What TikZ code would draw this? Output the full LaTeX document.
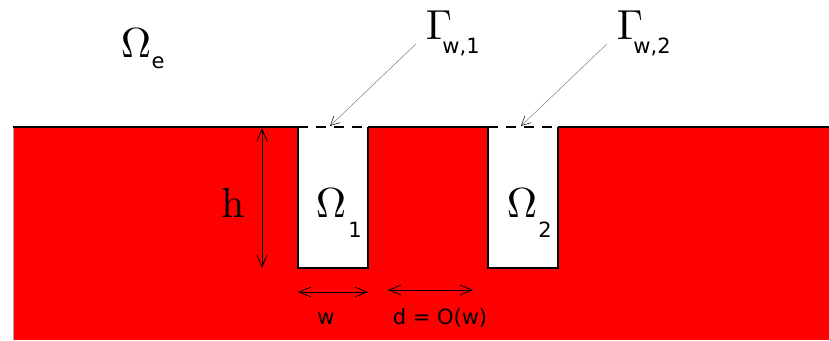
\documentclass[tikz,border=0pt]{standalone}
\usepackage[no-math]{fontspec}
\newfontfamily\labelfont{DejaVu Sans}
\usetikzlibrary{arrows.meta}
\tikzset{
  bigsym/.style={inner sep=0pt, anchor=base, scale=4.2},
  subsym/.style={inner sep=0pt, anchor=base, font=\labelfont\fontsize{21}{24}\selectfont},
  dimarrow/.style={{Straight Barb[length=12pt,width=10pt]}-{Straight Barb[length=12pt,width=10pt]}, line width=0.8pt},
  pointer/.style={draw=gray, line width=0.5pt, -{Straight Barb[black,length=9pt,width=9pt]}},
  wall/.style={line width=1.5pt},
  gate/.style={line width=2.8pt, dash pattern=on 10pt off 8pt}
}
\begin{document}
\begin{tikzpicture}[x=1pt,y=-1pt]
  \useasboundingbox (0,0) rectangle (829,340);
  \fill[red] (13,127) rectangle (829,340);
  \fill[white] (298,127) rectangle (368,268);
  \fill[white] (488,127) rectangle (558,268);
  \draw[gray!70, line width=1pt] (13,127) -- (13,340);
  \draw[line width=2pt] (12.5,127) -- (298,127);
  \draw[line width=2pt] (368,127) -- (488,127);
  \draw[line width=2pt] (558,127) -- (829,127);
  \draw[wall] (298,127) -- (298,268) -- (368,268) -- (368,127);
  \draw[wall] (488,127) -- (488,268) -- (558,268) -- (558,127);
  \draw[gate] (298,127) -- (368,127);
  \draw[gate] (488,127) -- (558,127);
  \coordinate (GoneEnd) at (330,126);
  \coordinate (GtwoEnd) at (521,126);
  \coordinate (hTop) at (262,128);
  \coordinate (hBot) at (262,268);
  \coordinate (wLeft) at (298,292);
  \coordinate (wRight) at (368,292);
  \coordinate (dLeft) at (388,290);
  \coordinate (dRight) at (473,290);
  \node[bigsym] (OmegaE) at (136,57) {$\Omega$};
  \node[subsym] (OmegaEsub) at (158,68) {e};
  \node[bigsym] (Gone) at (439,39) {$\Gamma$};
  \node[subsym] (Gonesub) at (461,53) {w,1};
  \node[bigsym] (Gtwo) at (630,39) {$\Gamma$};
  \node[subsym] (Gtwosub) at (652,53) {w,2};
  \node[bigsym] (OmegaOne) at (331,217) {$\Omega$};
  \node[subsym] (OmegaOnesub) at (355,237) {1};
  \node[bigsym] (OmegaTwo) at (522,217) {$\Omega$};
  \node[subsym] (OmegaTwosub) at (545,237) {2};
  \node[bigsym] (hLabel) at (233,217) {h};
  \node[subsym] (wLabel) at (326,324) {w};
  \node[subsym] (dLabel) at (440,324) {d = O(w)};
  \draw[pointer] ([xshift=-9pt,yshift=-4pt]Gone.south west) -- (GoneEnd);
  \draw[pointer] ([xshift=-9pt,yshift=-4pt]Gtwo.south west) -- (GtwoEnd);
  \draw[dimarrow] (hTop) -- (hBot);
  \draw[dimarrow] (wLeft) -- (wRight);
  \draw[dimarrow] (dLeft) -- (dRight);
\end{tikzpicture}
\end{document}
